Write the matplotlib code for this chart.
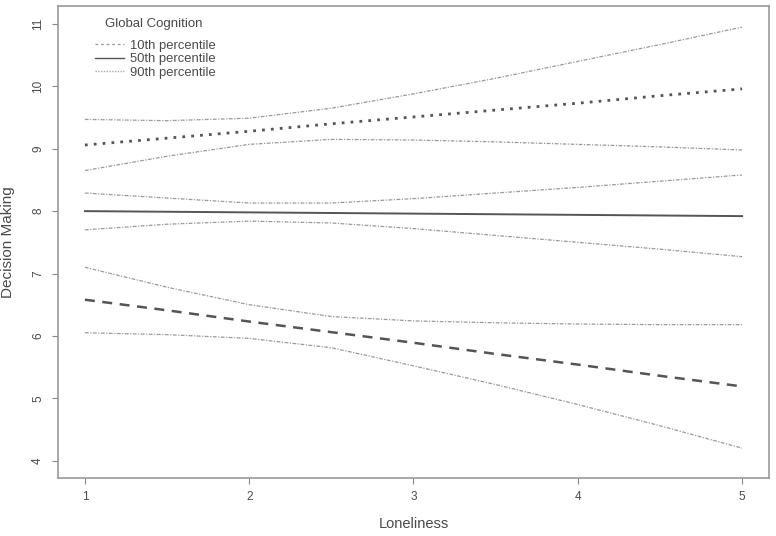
import matplotlib
matplotlib.use('Agg')
import numpy as np
import matplotlib.pyplot as plt
from matplotlib.lines import Line2D

plt.rcParams['font.family'] = ['Liberation Sans', 'DejaVu Sans']

# loneliness values where the curves were read
loneliness = [1, 1.5, 2, 2.5, 3, 3.5, 4, 4.5, 5]

# 10th percentile of global cognition
p10_fit = [6.58, 6.41, 6.23, 6.06, 5.89, 5.71, 5.54, 5.36, 5.19]
p10_hi = [7.10, 6.78, 6.50, 6.31, 6.24, 6.21, 6.19, 6.18, 6.18]
p10_lo = [6.05, 6.02, 5.96, 5.81, 5.52, 5.22, 4.90, 4.56, 4.20]

# 50th percentile
p50_fit = [8.00, 7.99, 7.98, 7.97, 7.96, 7.95, 7.94, 7.93, 7.92]
p50_hi = [8.29, 8.21, 8.13, 8.13, 8.20, 8.29, 8.38, 8.48, 8.58]
p50_lo = [7.70, 7.79, 7.84, 7.81, 7.72, 7.61, 7.50, 7.39, 7.27]

# 90th percentile
p90_fit = [9.06, 9.17, 9.28, 9.40, 9.51, 9.62, 9.73, 9.85, 9.96]
p90_hi = [9.47, 9.45, 9.49, 9.65, 9.88, 10.13, 10.40, 10.67, 10.95]
p90_lo = [8.65, 8.88, 9.07, 9.15, 9.14, 9.11, 9.07, 9.03, 8.98]

legend_title = 'Global Cognition'
legend_labels = ['10th percentile', '50th percentile', '90th percentile']
x_ticks = [1, 2, 3, 4, 5]
y_ticks = [4, 5, 6, 7, 8, 9, 10, 11]

dark = '#555555'
band = '#9a9a9a'
txt = '#4a4a4a'
band_ls = (0, (3, 1.2, 1, 1.2))

fig = plt.figure(figsize=(7.76, 5.36), dpi=100)
ax = fig.add_axes([0.0747, 0.108, 0.9163, 0.881])

for lo, hi in [(p10_lo, p10_hi), (p50_lo, p50_hi), (p90_lo, p90_hi)]:
    ax.plot(loneliness, hi, color=band, lw=0.9, ls=band_ls)
    ax.plot(loneliness, lo, color=band, lw=0.9, ls=band_ls)

ax.plot(loneliness, p10_fit, color=dark, lw=1.8, ls=(0, (4, 3)))
ax.plot(loneliness, p50_fit, color=dark, lw=1.4, ls='-')
ax.plot(loneliness, p90_fit, color=dark, lw=2.0, ls=(0, (1, 2.2)))

ax.set_xlim(0.836, 5.164)
ax.set_ylim(3.72, 11.29)
ax.set_xticks(x_ticks)
ax.set_yticks(y_ticks)
ax.set_xticklabels([str(v) for v in x_ticks])
ax.set_yticklabels([str(v) for v in y_ticks], rotation=90, va='center')
ax.tick_params(axis='both', colors='#888888', labelcolor=txt, labelsize=8.5,
               length=4, width=0.8, direction='out')
ax.tick_params(axis='x', pad=5)
ax.tick_params(axis='y', pad=6)
for s in ax.spines.values():
    s.set_color('#999999')
    s.set_linewidth(1.2)

ax.set_xlabel('Loneliness', fontsize=10.5, color=txt, labelpad=10)
ax.set_ylabel('Decision Making', fontsize=11, color=txt, labelpad=12)

# legend title drawn apart so the gap above the entries matches
ax.text(0.066, 0.962, legend_title, transform=ax.transAxes, fontsize=9.5,
        color=txt, ha='left', va='center')
handles = [Line2D([], [], color='#9a9a9a', lw=1.0, ls=(0, (2, 2))),
           Line2D([], [], color=dark, lw=1.0, ls='-'),
           Line2D([], [], color='#aaaaaa', lw=1.0, ls=(0, (1, 1)))]
leg = ax.legend(handles, legend_labels, loc='upper left',
                bbox_to_anchor=(0.052, 0.928), frameon=False, fontsize=9.4,
                handlelength=2.2, labelspacing=0.1, handletextpad=0.5,
                borderpad=0, borderaxespad=0)
for t in leg.get_texts():
    t.set_color(txt)

fig.savefig('out.png', dpi=100)
